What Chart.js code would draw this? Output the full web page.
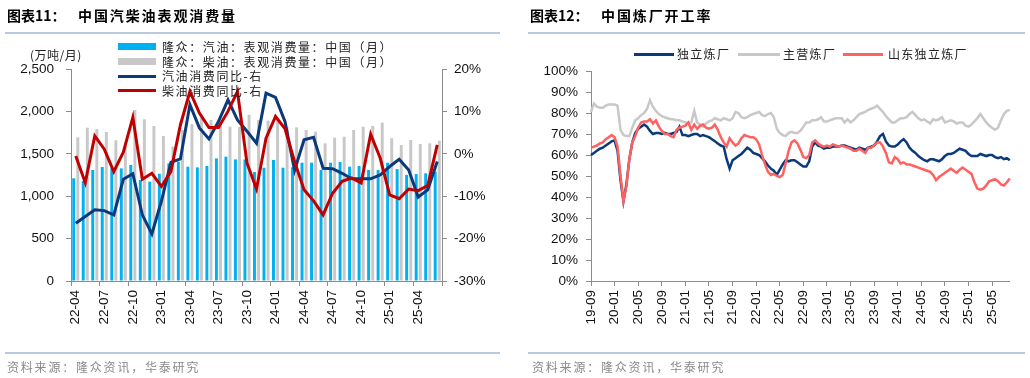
<!DOCTYPE html>
<html>
<head>
<meta charset="utf-8">
<script src="https://cdn.jsdelivr.net/npm/chart.js@4.4.1/dist/chart.umd.min.js"></script>
<style>
  html,body{margin:0;padding:0;background:#fff;}
  #wrap{position:relative;width:1030px;height:378px;overflow:hidden;background:#fff;font-family:"Noto Sans CJK SC","Noto Sans",sans-serif;}
  .abs{position:absolute;white-space:nowrap;}
  .title{font-size:14px;font-weight:bold;color:#000;line-height:18px;}
  .rule{position:absolute;height:2px;background:#B9CADF;}
  .src{font-size:12px;color:#8a8a8a;letter-spacing:1.8px;line-height:16px;}
  .lg{font-size:12px;color:#222;letter-spacing:1.6px;line-height:14px;}
  canvas{position:absolute;top:0;}
</style>
</head>
<body>
<div id="wrap">
  <canvas id="c1" width="515" height="378" style="left:0"></canvas>
  <canvas id="c2" width="515" height="378" style="left:515px"></canvas>

  <div class="abs title" style="left:7px;top:6px;">图表11：</div>
  <div class="abs title" style="left:78px;top:6px;letter-spacing:1.9px;">中国汽柴油表观消费量</div>
  <div class="rule" style="left:5px;top:32px;width:495px;"></div>
  <div class="rule" style="left:5px;top:352px;width:495px;"></div>
  <div class="abs src" style="left:7px;top:359px;">资料来源：隆众资讯，华泰研究</div>

  <div class="abs title" style="left:530px;top:6px;">图表12：</div>
  <div class="abs title" style="left:601px;top:6px;letter-spacing:1.9px;">中国炼厂开工率</div>
  <div class="rule" style="left:528px;top:32px;width:497px;"></div>
  <div class="rule" style="left:528px;top:352px;width:497px;"></div>
  <div class="abs src" style="left:532px;top:359px;">资料来源：隆众资讯，华泰研究</div>

  <div class="abs lg" style="left:30px;top:48px;letter-spacing:0.5px;">(万吨/月)</div>

  <!-- left legend -->
  <div class="abs" style="left:118px;top:43px;width:38px;height:7px;background:#00B0F0;"></div>
  <div class="abs lg" style="left:162px;top:40px;">隆众：汽油：表观消费量：中国（月）</div>
  <div class="abs" style="left:118px;top:58px;width:38px;height:7px;background:#C8C8C8;"></div>
  <div class="abs lg" style="left:162px;top:55px;">隆众：柴油：表观消费量：中国（月）</div>
  <div class="abs" style="left:118px;top:74.5px;width:38px;height:3px;background:#0B3A7A;"></div>
  <div class="abs lg" style="left:162px;top:69px;">汽油消费同比-右</div>
  <div class="abs" style="left:118px;top:89px;width:38px;height:3px;background:#C00000;"></div>
  <div class="abs lg" style="left:162px;top:84px;">柴油消费同比-右</div>

  <!-- right legend -->
  <div class="abs" style="left:634px;top:52.5px;width:40px;height:3px;background:#0B3A7A;"></div>
  <div class="abs lg" style="left:677px;top:47px;letter-spacing:1.3px;">独立炼厂</div>
  <div class="abs" style="left:738px;top:52.5px;width:42px;height:3px;background:#C8C8C8;"></div>
  <div class="abs lg" style="left:783px;top:47px;letter-spacing:1.3px;">主营炼厂</div>
  <div class="abs" style="left:843px;top:52.5px;width:40px;height:3px;background:#FF6060;"></div>
  <div class="abs lg" style="left:888px;top:47px;letter-spacing:1.3px;">山东独立炼厂</div>
</div>

<script>
// ---------- Chart 11 data ----------
const months = ['22-04','22-05','22-06','22-07','22-08','22-09','22-10','22-11','22-12',
  '23-01','23-02','23-03','23-04','23-05','23-06','23-07','23-08','23-09','23-10','23-11','23-12',
  '24-01','24-02','24-03','24-04','24-05','24-06','24-07','24-08','24-09','24-10','24-11','24-12',
  '25-01','25-02','25-03','25-04','25-05','25-06'];
const gasolineApparent = [1211,1180,1309,1344,1330,1328,1368,1190,1171,1265,1387,1407,1348,1340,1356,1446,1466,1434,1434,1285,1336,1427,1336,1341,1395,1395,1309,1395,1403,1348,1356,1310,1310,1395,1320,1250,1262,1270,1289];
const dieselApparent = [1694,1808,1792,1757,1660,1600,2017,1907,1828,1710,1584,1780,1850,1930,1900,1870,1820,1816,1960,1899,1891,1907,1820,1812,1781,1761,1624,1690,1702,1781,1820,1828,1867,1683,1604,1663,1616,1624,1655];
const gasolineYoY = [-16.4,-14.8,-13.2,-13.4,-14.4,-6.0,-4.7,-14.4,-18.9,-11.2,-2.0,-1.2,11.6,6.1,3.5,7.6,12.7,8.0,5.3,2.5,14.3,13.3,7.6,-3.9,3.3,3.9,-3.4,-3.5,-4.6,-5.9,-5.9,-5.9,-5.0,-3.0,-1.3,-3.8,-10.2,-8.5,-1.8];
const dieselYoY = [-0.5,-6.8,4.2,1.1,-4.2,0.4,8.6,-6.0,-4.6,-7.7,-4.2,6.8,14.7,9.6,6.2,6.2,10.0,14.7,-2.2,-8.3,3.7,8.8,5.9,-1.8,-8.5,-11.1,-14.4,-9.3,-6.5,-5.7,-6.9,4.6,-1.0,-9.7,-10.6,-8.3,-8.7,-7.5,2.1];

// ---------- Chart 12 data (half-month samples, 2019-09 .. 2025-08) ----------
const rateTickLabels = ['19-09','20-01','20-05','20-09','21-01','21-05','21-09','22-01','22-05','22-09','23-01','23-05','23-09','24-01','24-05','24-09','25-01','25-05'];
const periods = [];
for (let k = 0; k < 143; k++) {
  const mIdx = Math.floor(k / 2);
  const y = 2019 + Math.floor((8 + mIdx) / 12);
  const mo = ((8 + mIdx) % 12) + 1;
  periods.push(y + '-' + String(mo).padStart(2, '0') + (k % 2 === 0 ? '-01' : '-16'));
}
const majorRate = [80.5,84.5,83,82.5,82.5,83.5,84,84,84,83.5,
  72,69.5,69,69,73,76.5,77.5,79,80,82,
  86,83,81,79.5,78.5,78,77.5,77,77,76.5,
  76.5,76,75.5,75,75.5,81,75.5,74.5,73.5,75,
  76,76.5,77.5,77,76.5,77.5,77,76.5,77.5,80.5,
  80,78,77.5,78,79,79.5,80,80.5,79,78.5,
  79.5,80,78,72.5,70.5,69.5,69,70.5,71,70.5,
  70.5,71.5,73.5,75.5,75.5,76.5,76.5,77,78,76,
  76,76.5,77,77.5,77.5,77.5,75.5,77,75.5,76.5,
  78,79.5,80,80.5,81.5,82,82.5,83.5,82,80.5,
  78.5,77,75.5,75.5,76.5,77.5,77.5,78,79.5,80.5,
  79,77.5,76.5,77,76,75,77,76.5,77,78,
  75.5,76,76.5,76,75,75.5,75.5,74,73.5,74.5,
  76,77.5,79.5,77.5,75.5,74,73,72,73,76.5,
  79.5,81,81.5];
const independentRate = [60,61,62,63,63.5,64.5,65.5,66.5,67,62,
  48,38,46,58,66,70.5,72.5,73.5,74.5,73.5,
  71.5,70,70.5,70.5,70,70.5,70,70,70.5,71,
  73.5,69.5,69.5,69,69.5,70,70,69,69.5,69,
  68.5,67.5,66.5,65.5,64.5,64,58,53.5,57.5,58.5,
  59.5,60.5,62,63.5,62.5,61,60.5,60,58.5,57,
  55,53.5,52.5,50.5,53,55.5,57.5,57,57.5,57.5,
  56.5,55.5,54.5,54.5,57,64,66,64.5,64,63,
  63.5,63.5,64,64,64,64.5,64.5,64,63.5,63,
  62.5,63.5,63,62.5,63.5,64,64.5,66.5,69,70,
  66.5,64.5,64,64,65,66.5,67.5,66,63.5,62,
  61,59.5,58.5,57.5,57,58,58,57.5,57,58,
  59.5,60.5,60.5,61,62,63,62.5,62,60.5,59.5,
  59.5,59.5,60.5,60,59.5,60,60,59,58.5,59,
  58,58.5,57.5];
const shandongRate = [63.5,64,64.5,65.5,66,67.5,68.5,69.5,68.5,64,
  50,38,45,58,66,69,73,75.5,76,76,
  77,75,76.5,73.5,71.5,70,70,69,68.5,72,
  73,73.5,74,75.5,72,74.5,72.5,74,74.5,73,
  72.5,73,74.5,72,68.5,66,64,68,66,64.5,
  65.5,68,69.5,69,68.5,68.5,67.5,65,60,55.5,
  52,50.5,51,50,49.5,50.5,56,62,66,67,
  65.5,62.5,59,58.5,60,66,67,65.5,64.5,64,
  64.5,64,65,64.5,64,64.5,64,63.5,63,62,
  62,63,62,61,63.5,63.5,64.5,66,66,64,
  61,56.5,56,59,58,56,56.5,55.5,55.5,55,
  54.5,54,53.5,53,52.5,52,50.5,48,49.5,50.5,
  51.5,52.5,53.5,52.5,51.5,53,54,53,52,51,
  47,44,43.5,44,45.5,47.5,48,48.5,47.5,46,
  45.5,47,48.8];

// ---------- common styling ----------
const axisColor = '#8C8C8C';
const tickFont = {family: '"Liberation Sans", Arial, sans-serif', size: 13.5};
const tickColor = '#111';
const hidden = 'rgba(0,0,0,0)';

new Chart(document.getElementById('c1'), {
  type: 'bar',
  data: {
    labels: months,
    datasets: [
      {type: 'bar', label: '隆众：汽油：表观消费量：中国（月）', data: gasolineApparent, backgroundColor: '#00B0F0',
       yAxisID: 'y', order: 2, categoryPercentage: 0.86, barPercentage: 0.72},
      {type: 'bar', label: '隆众：柴油：表观消费量：中国（月）', data: dieselApparent, backgroundColor: '#C8C8C8',
       yAxisID: 'y', order: 2, categoryPercentage: 0.86, barPercentage: 0.72},
      {type: 'line', label: '汽油消费同比-右', data: gasolineYoY, borderColor: '#0B3A7A', borderWidth: 3,
       pointRadius: 0, tension: 0, yAxisID: 'y1', order: 1},
      {type: 'line', label: '柴油消费同比-右', data: dieselYoY, borderColor: '#C00000', borderWidth: 3,
       pointRadius: 0, tension: 0, yAxisID: 'y1', order: 0}
    ]
  },
  options: {
    responsive: false, animation: false,
    layout: {padding: {left: 11, right: 23, top: 69, bottom: 47}},
    plugins: {legend: {display: false}, tooltip: {enabled: false}},
    scales: {
      x: {
        offset: true,
        grid: {offset: true, drawOnChartArea: false, drawTicks: true, tickLength: 5,
               color: ctx => (ctx.type !== 'tick' || ctx.index % 3 === 0) ? axisColor : hidden},
        border: {display: true, color: axisColor, width: 1},
        ticks: {autoSkip: false, minRotation: 90, maxRotation: 90, padding: 4, font: tickFont, color: tickColor,
                callback: (v, i) => (i % 3 === 0 ? months[i] : '')},
        afterFit: s => { s.height = 50; }
      },
      y: {
        position: 'left', min: 0, max: 2500,
        grid: {drawOnChartArea: false, tickLength: 5, color: axisColor},
        border: {display: true, color: axisColor},
        ticks: {stepSize: 500, padding: 12, font: tickFont, color: tickColor,
                callback: v => Number(v).toLocaleString('en-US')},
        afterFit: s => { s.width = 60; }
      },
      y1: {
        position: 'right', min: -30, max: 20,
        grid: {drawOnChartArea: false, tickLength: 5, color: axisColor},
        border: {display: true, color: axisColor},
        ticks: {stepSize: 10, padding: 7, font: tickFont, color: tickColor, callback: v => v + '%'},
        afterFit: s => { s.width = 50; }
      }
    }
  }
});

new Chart(document.getElementById('c2'), {
  type: 'line',
  data: {
    labels: periods,
    datasets: [
      {label: '独立炼厂', data: independentRate, borderColor: '#0B3A7A', borderWidth: 2.5, pointRadius: 0, tension: 0, order: 1},
      {label: '主营炼厂', data: majorRate, borderColor: '#C8C8C8', borderWidth: 2.5, pointRadius: 0, tension: 0, order: 2},
      {label: '山东独立炼厂', data: shandongRate, borderColor: '#FF6060', borderWidth: 2.5, pointRadius: 0, tension: 0, order: 0}
    ]
  },
  options: {
    responsive: false, animation: false,
    layout: {padding: {left: 16, right: 20, top: 71, bottom: 47}},
    plugins: {legend: {display: false}, tooltip: {enabled: false}},
    scales: {
      x: {
        grid: {drawOnChartArea: false, drawTicks: true, tickLength: 5,
               color: ctx => (ctx.type === 'tick' && ctx.index % 8 === 0) ? axisColor : hidden},
        border: {display: true, color: axisColor, width: 1},
        ticks: {autoSkip: false, minRotation: 90, maxRotation: 90, padding: 4, font: tickFont, color: tickColor,
                callback: (v, i) => (i % 8 === 0 ? rateTickLabels[i / 8] : '')},
        afterFit: s => { s.height = 50; }
      },
      y: {
        min: 0, max: 100,
        grid: {drawOnChartArea: false, tickLength: 5, color: axisColor},
        border: {display: true, color: axisColor},
        ticks: {stepSize: 10, padding: 8, font: tickFont, color: tickColor, callback: v => v + '%'},
        afterFit: s => { s.width = 60; }
      }
    }
  }
});
</script>
</body>
</html>
